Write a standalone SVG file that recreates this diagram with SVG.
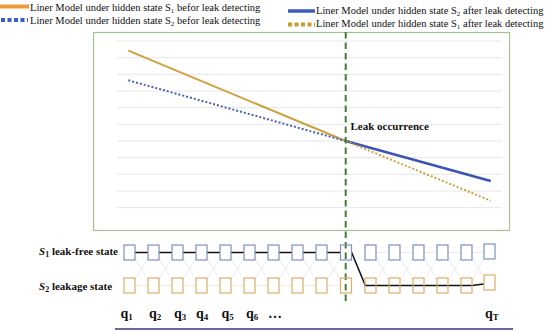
<svg xmlns="http://www.w3.org/2000/svg" width="550" height="331" viewBox="0 0 550 331">
<style>
.leg{font-family:"Liberation Serif","Times New Roman",serif;font-size:10.5px;fill:#111}
.sub{font-size:7px}
.bold{font-family:"Liberation Serif","Times New Roman",serif;font-weight:bold;fill:#111}
.grid{stroke:#e6e6e6;stroke-width:1}
.b1{fill:#fff;stroke:#7e8fc4;stroke-width:1.2}
.b2{fill:#fff;stroke:#dcae6a;stroke-width:1.2}
.faint{stroke:#e6e6f4;stroke-width:0.8;fill:none}
.faintO{stroke:#f5e6cf;stroke-width:0.8;fill:none}
</style>
<rect width="550" height="331" fill="#fff"/>
<g id="legend">
<line x1="0" y1="6.5" x2="29" y2="6.5" stroke="#ee9a3c" stroke-width="4"/>
<text class="leg" x="30" y="10.5">Liner Model under hidden state S<tspan class="sub" dy="2">1</tspan><tspan dy="-2"> befor leak detecting</tspan></text>
<line x1="1" y1="20" x2="28" y2="20" stroke="#3a5ccc" stroke-width="4" stroke-dasharray="4 2.5"/>
<text class="leg" x="30" y="24">Liner Model under hidden state S<tspan class="sub" dy="2">2</tspan><tspan dy="-2"> befor leak detecting</tspan></text>
<line x1="288" y1="11" x2="315" y2="11" stroke="#3c5bbf" stroke-width="3.5"/>
<text class="leg" x="316" y="13.5">Liner Model under hidden state S<tspan class="sub" dy="2">2</tspan><tspan dy="-2"> after leak detecting</tspan></text>
<line x1="288" y1="24.5" x2="315" y2="24.5" stroke="#c99b30" stroke-width="4" stroke-dasharray="4 2.5"/>
<text class="leg" x="316" y="27">Liner Model under hidden state S<tspan class="sub" dy="2">1</tspan><tspan dy="-2"> after leak detecting</tspan></text>
</g>
<g id="plot">
<rect x="93.5" y="32.5" width="416" height="198" fill="#fff" stroke="#a8bf92" stroke-width="1.2"/>
<g class="grid">
<line x1="117" y1="41" x2="502" y2="41"/>
<line x1="117" y1="57.7" x2="502" y2="57.7"/>
<line x1="117" y1="74.3" x2="502" y2="74.3"/>
<line x1="117" y1="91" x2="502" y2="91"/>
<line x1="117" y1="107.7" x2="502" y2="107.7"/>
<line x1="117" y1="124.3" x2="502" y2="124.3"/>
<line x1="117" y1="141" x2="502" y2="141"/>
<line x1="117" y1="157.7" x2="502" y2="157.7"/>
<line x1="117" y1="174.3" x2="502" y2="174.3"/>
<line x1="117" y1="191" x2="502" y2="191"/>
<line x1="117" y1="207.7" x2="502" y2="207.7"/>
</g>
</g>
<g id="connectors">
<line x1="128.3" y1="50.7" x2="345.7" y2="141" stroke="#cfa03e" stroke-width="2"/>
<line x1="128.3" y1="80.3" x2="345.7" y2="141" stroke="#4a62b8" stroke-width="2" stroke-dasharray="2 2"/>
<line x1="345.7" y1="141" x2="490.7" y2="181" stroke="#3b55b5" stroke-width="2.5"/>
<line x1="345.7" y1="141" x2="490.7" y2="200.7" stroke="#cfa03e" stroke-width="2" stroke-dasharray="2 2"/>
<g class="faint">
<path d="M135 258 L148 280 M135 280 L148 258 M159 258 L172 280 M159 280 L172 258 M183 258 L196 280 M183 280 L196 258 M207 258 L220 280 M207 280 L220 258 M231 258 L244 280 M231 280 L244 258 M255 258 L268 280 M255 280 L268 258 M279 258 L292 280 M279 280 L292 258 M303 258 L316 280 M303 280 L316 258 M327 258 L340.5 280 M327 280 L340.5 258 M351.5 258 L365 280 M376 258 L389 280 M376 280 L389 258 M400 258 L413 280 M400 280 L413 258 M424 258 L437 280 M424 280 L437 258 M448 258 L461 280 M448 280 L461 258 M472 258 L484 278 M472 280 L484 258"/>
<path d="M376 252.5 L484 252.5"/>
</g>
<path class="faintO" d="M135 285.5 L340.5 285.5"/>
<path d="M135 252.5 L340.5 252.5 M351.5 252 L365.5 286 M365 285.5 L472 285.5 L484 284" fill="none" stroke="#111" stroke-width="1.5"/>
<line x1="345.7" y1="32" x2="345.7" y2="303" stroke="#3f7f33" stroke-width="2" stroke-dasharray="6.5 4"/>
</g>
<g id="s1-row">
<rect class="b1" x="124" y="245" width="11" height="15"/>
<rect class="b1" x="148" y="245" width="11" height="15"/>
<rect class="b1" x="172" y="245" width="11" height="15"/>
<rect class="b1" x="196" y="245" width="11" height="15"/>
<rect class="b1" x="220" y="245" width="11" height="15"/>
<rect class="b1" x="244" y="245" width="11" height="15"/>
<rect class="b1" x="268" y="245" width="11" height="15"/>
<rect class="b1" x="292" y="245" width="11" height="15"/>
<rect class="b1" x="316" y="245" width="11" height="15"/>
<rect class="b1" x="340.5" y="245" width="11" height="15" fill-opacity="0"/>
<rect class="b1" x="365" y="245" width="11" height="15"/>
<rect class="b1" x="389" y="245" width="11" height="15"/>
<rect class="b1" x="413" y="245" width="11" height="15"/>
<rect class="b1" x="437" y="245" width="11" height="15"/>
<rect class="b1" x="461" y="245" width="11" height="15"/>
<rect class="b1" x="484" y="244" width="11" height="15"/>
</g>
<g id="s2-row">
<rect class="b2" x="124" y="278" width="11" height="15"/>
<rect class="b2" x="148" y="278" width="11" height="15"/>
<rect class="b2" x="172" y="278" width="11" height="15"/>
<rect class="b2" x="196" y="278" width="11" height="15"/>
<rect class="b2" x="220" y="278" width="11" height="15"/>
<rect class="b2" x="244" y="278" width="11" height="15"/>
<rect class="b2" x="268" y="278" width="11" height="15"/>
<rect class="b2" x="292" y="278" width="11" height="15"/>
<rect class="b2" x="316" y="278" width="11" height="15"/>
<rect class="b2" x="340.5" y="278" width="11" height="15" fill-opacity="0"/>
<rect class="b2" x="365" y="278" width="11" height="15" fill-opacity="0"/>
<rect class="b2" x="389" y="278" width="11" height="15" fill-opacity="0"/>
<rect class="b2" x="413" y="278" width="11" height="15" fill-opacity="0"/>
<rect class="b2" x="437" y="278" width="11" height="15" fill-opacity="0"/>
<rect class="b2" x="461" y="278" width="11" height="15" fill-opacity="0"/>
<rect class="b2" x="484" y="275" width="11" height="15"/>
</g>
<g id="labels">
<text class="bold" x="350.5" y="129.5" font-size="11">Leak occurrence</text>
<text class="bold" x="39" y="255" font-size="11"><tspan font-style="italic">S</tspan><tspan font-size="8" dy="2">1</tspan><tspan dy="-2"> leak-free state</tspan></text>
<text class="bold" x="39" y="289.5" font-size="11"><tspan font-style="italic">S</tspan><tspan font-size="8" dy="2">2</tspan><tspan dy="-2"> leakage state</tspan></text>
<g font-size="14">
<text class="bold" x="120.5" y="318">q<tspan font-size="9" dy="2">1</tspan></text>
<text class="bold" x="149" y="318">q<tspan font-size="9" dy="2">2</tspan></text>
<text class="bold" x="174" y="318">q<tspan font-size="9" dy="2">3</tspan></text>
<text class="bold" x="196" y="318">q<tspan font-size="9" dy="2">4</tspan></text>
<text class="bold" x="221.5" y="318">q<tspan font-size="9" dy="2">5</tspan></text>
<text class="bold" x="246" y="318">q<tspan font-size="9" dy="2">6</tspan></text>
<text class="bold" x="268" y="318">…</text>
<text class="bold" x="485" y="318">q<tspan font-size="9" dy="2">T</tspan></text>
</g>
</g>
<line id="axis" x1="115" y1="329" x2="513" y2="329" stroke="#2f4172" stroke-width="1.5"/>
</svg>
